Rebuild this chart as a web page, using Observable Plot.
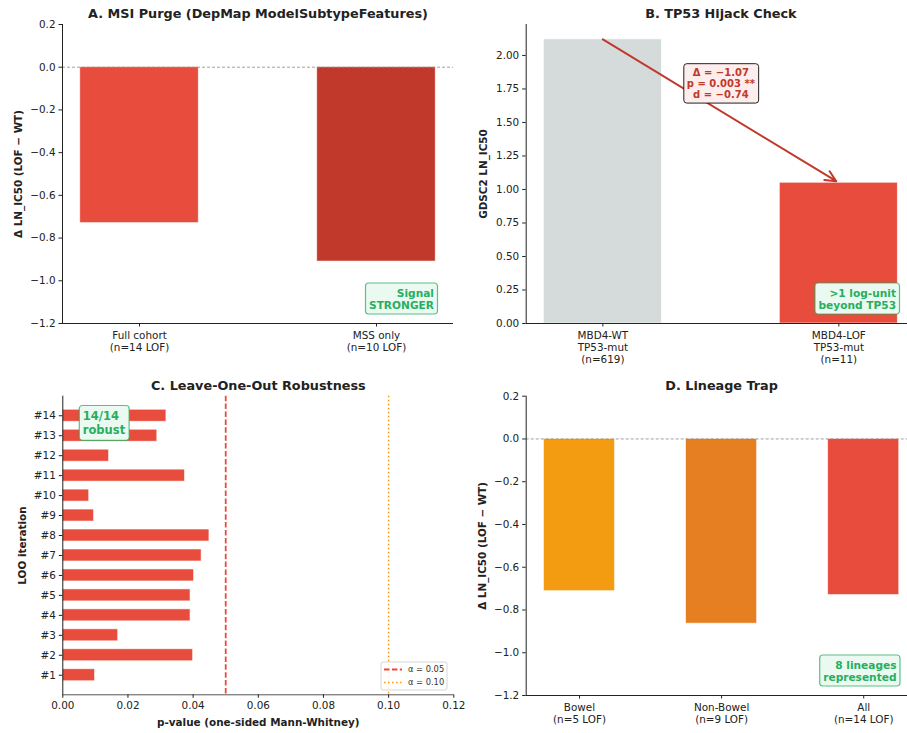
<!DOCTYPE html>
<html><head><meta charset="utf-8">
<script src="https://cdn.jsdelivr.net/npm/d3@7"></script>
<script src="https://cdn.jsdelivr.net/npm/@observablehq/plot@0.6"></script>
<style>
html,body{margin:0;padding:0;background:#fff;overflow:hidden;}
#fig{position:relative;width:907px;height:733px;overflow:hidden;background:#fff;}
.panel{position:absolute;}
.panel svg{max-width:none !important;display:block;}
</style></head><body><div id="fig"></div>
<script>
// ---------- data ----------
const msiCategories = ["Full cohort\n(n=14 LOF)", "MSS only\n(n=10 LOF)"];
const msiDelta = [-0.73, -0.91];

const tp53Categories = ["MBD4-WT\nTP53-mut\n(n=619)", "MBD4-LOF\nTP53-mut\n(n=11)"];
const tp53Ic50 = [2.12, 1.05];
const tp53Stats = ["Δ = −1.07", "p = 0.003 **", "d = −0.74"];

const looIterations = ["#1","#2","#3","#4","#5","#6","#7","#8","#9","#10","#11","#12","#13","#14"];
const looPValues = [0.0099, 0.0400, 0.0170, 0.0392, 0.0392, 0.0403, 0.0426, 0.0450, 0.0096, 0.0081, 0.0375, 0.0142, 0.0290, 0.0318];
const alphaLevels = [0.05, 0.10];
const alphaLabels = ["α = 0.05", "α = 0.10"];

const lineageCategories = ["Bowel\n(n=5 LOF)", "Non-Bowel\n(n=9 LOF)", "All\n(n=14 LOF)"];
const lineageDelta = [-0.712, -0.864, -0.73];

const deltaTicks = [-1.2, -1.0, -0.8, -0.6, -0.4, -0.2, 0.0, 0.2];
const ic50Ticks = [0, 0.25, 0.5, 0.75, 1.0, 1.25, 1.5, 1.75, 2.0];
const pTicks = [0, 0.02, 0.04, 0.06, 0.08, 0.10, 0.12];

// ---------- styles ----------
const FONT = "DejaVu Sans";
const msiColors = ["#e74c3c", "#c0392b"];
const tp53Colors = ["#d5dbdb", "#e74c3c"];
const lineageColors = ["#f39c12", "#e67e22", "#e74c3c"];
const GREEN = "#27ae60";
const INK = "#222";

const fig = document.getElementById("fig");
const fmt1 = d => d3.format(".1f")(d).replace("-", "\u2212");
const fmt2 = d => d3.format(".2f")(d).replace("-", "\u2212");

function baseStyle() {
  return {fontFamily: FONT, fontSize: "10.4px", background: "transparent", color: INK, overflow: "visible"};
}

function addBoxes(svg, cls, o) {
  svg.querySelectorAll(`g.${cls} text, g[aria-label="${cls}"] text`).forEach(t => {
    const b = t.getBBox();
    const pad = o.pad ?? 3;
    const r = document.createElementNS("http://www.w3.org/2000/svg", "rect");
    r.setAttribute("x", b.x - pad);
    r.setAttribute("y", b.y - pad);
    r.setAttribute("width", b.width + 2 * pad);
    r.setAttribute("height", b.height + 2 * pad);
    r.setAttribute("rx", o.r ?? 3);
    r.setAttribute("fill", o.fill);
    r.setAttribute("fill-opacity", o.fillOpacity ?? 1);
    r.setAttribute("stroke", o.stroke);
    r.setAttribute("stroke-opacity", o.strokeOpacity ?? 1);
    r.setAttribute("stroke-width", o.strokeWidth ?? 1);
    const tr = t.getAttribute("transform");
    if (tr) r.setAttribute("transform", tr);
    t.parentNode.insertBefore(r, t);
  });
}

function place(svg, left, top) {
  const d = document.createElement("div");
  d.className = "panel";
  d.style.left = left + "px";
  d.style.top = top + "px";
  d.appendChild(svg);
  fig.appendChild(d);
  return svg;
}

function titleMark(txt, dy) {
  return Plot.text([txt], {text: d => d, frameAnchor: "top", dy, textAnchor: "middle", lineAnchor: "middle",
    fontWeight: "bold", fontSize: 12.8, fill: INK});
}
function yLabelMark(txt, dx) {
  return Plot.text([txt], {text: d => d, frameAnchor: "left", dx, rotate: -90, textAnchor: "middle",
    lineAnchor: "middle", fontWeight: "bold", fontSize: 10.4, fill: INK});
}
function greenNote(txt, anchor, dx, dy, size, lh) {
  const left = anchor.endsWith("left");
  return Plot.text([txt], {text: d => d, frameAnchor: anchor, dx, dy,
    textAnchor: left ? "start" : "end", lineAnchor: anchor.startsWith("top") ? "top" : "bottom",
    fontWeight: "bold", fontSize: size, lineHeight: lh, fill: GREEN, className: "gbox", ariaLabel: "gbox"});
}
const boxGreen = {fill: "#eafaf1", stroke: GREEN, strokeOpacity: 0.75, strokeWidth: 1.2, pad: 3.5, r: 3};
const axisOpts = {tickSize: 3.5, label: null, fontSize: 10.4};

// ---------- Panel A ----------
{
  const data = msiDelta.map((v, i) => ({i, v, c: msiColors[i]}));
  const xd = [-0.325, 1.325], yd = [-1.2, 0.2];
  const svg = Plot.plot({
    width: 460, height: 370, marginLeft: 62, marginRight: 7, marginTop: 24, marginBottom: 47,
    style: baseStyle(),
    x: {type: "linear", domain: xd}, y: {domain: yd}, color: {type: "identity"},
    marks: [
      Plot.rect(data, {x1: d => d.i - 0.25, x2: d => d.i + 0.25, y1: 0, y2: "v", fill: "c", stroke: "white", strokeOpacity: 0.7, strokeWidth: 0.8}),
      Plot.ruleY([0], {stroke: "#888", strokeWidth: 0.8, strokeDasharray: "3,2"}),
      Plot.ruleX([xd[0]], {stroke: INK, strokeWidth: 1}),
      Plot.ruleY([yd[0]], {stroke: INK, strokeWidth: 1}),
      Plot.axisX({...axisOpts, ticks: [0, 1], tickFormat: i => msiCategories[i], tickPadding: 3, lineHeight: 1.18}),
      Plot.axisY({...axisOpts, ticks: deltaTicks, tickFormat: fmt1, tickPadding: 3.5}),
      titleMark("A. MSI Purge (DepMap ModelSubtypeFeatures)", -10.5),
      yLabelMark("Δ LN_IC50 (LOF − WT)", -44),
      greenNote("Signal\nSTRONGER", "bottom-right", -19.5, -15, 10.6, 1.13)
    ]
  });
  place(svg, 0, 0);
  addBoxes(svg, "gbox", boxGreen);
}

// ---------- Panel B ----------
{
  const data = tp53Ic50.map((v, i) => ({i, v, c: tp53Colors[i]}));
  const arrowData = [{x1: 0, y1: tp53Ic50[0], x2: 1, y2: tp53Ic50[1]}];
  const xd = [-0.325, 1.325], yd = [0, 2.231];
  const svg = Plot.plot({
    width: 475, height: 370, marginLeft: 75.7, marginRight: 10, marginTop: 24, marginBottom: 47,
    style: baseStyle(),
    x: {type: "linear", domain: xd}, y: {domain: yd}, color: {type: "identity"},
    marks: [
      Plot.rect(data, {x1: d => d.i - 0.25, x2: d => d.i + 0.25, y1: 0, y2: "v", fill: "c", stroke: "white", strokeOpacity: 0.7, strokeWidth: 0.8}),
      Plot.arrow(arrowData, {x1: "x1", y1: "y1", x2: "x2", y2: "y2", stroke: "#c0392b", strokeWidth: 2, headLength: 9, headAngle: 50, insetEnd: 3}),
      Plot.ruleX([xd[0]], {stroke: INK, strokeWidth: 1}),
      Plot.ruleY([yd[0]], {stroke: INK, strokeWidth: 1}),
      Plot.axisX({...axisOpts, ticks: [0, 1], tickFormat: i => tp53Categories[i], tickPadding: 3, lineHeight: 1.18}),
      Plot.axisY({...axisOpts, ticks: ic50Ticks, tickFormat: fmt2, tickPadding: 3.5}),
      titleMark("B. TP53 Hijack Check", -10.5),
      yLabelMark("GDSC2 LN_IC50", -42.7),
      Plot.text([tp53Stats.join("\n")], {text: d => d, frameAnchor: "top", dy: 58.8, textAnchor: "middle", lineAnchor: "middle",
        fontWeight: "bold", fontSize: 10, lineHeight: 1.12, fill: "#c0392b", className: "rbox", ariaLabel: "rbox"}),
      greenNote(">1 log-unit\nbeyond TP53", "bottom-right", -19.5, -15, 10.6, 1.13)
    ]
  });
  place(svg, 450, 0);
  addBoxes(svg, "gbox", boxGreen);
  addBoxes(svg, "rbox", {fill: "#fdedec", stroke: INK, strokeWidth: 1, pad: 3, r: 3});
}

// ---------- Panel C ----------
{
  const data = looPValues.map((p, i) => ({i, p}));
  const xd = [0, 0.12], yd = [-0.98, 13.98];
  const W = 475, H = 363, mL = 62.3, mR = 21.7, mT = 25.7, mB = 38.7;
  const svg = Plot.plot({
    width: W, height: H, marginLeft: mL, marginRight: mR, marginTop: mT, marginBottom: mB,
    style: baseStyle(),
    x: {domain: xd}, y: {domain: yd},
    marks: [
      Plot.rect(data, {x1: 0, x2: "p", y1: d => d.i - 0.3, y2: d => d.i + 0.3, fill: "#e74c3c", stroke: "white", strokeOpacity: 0.7, strokeWidth: 0.8}),
      Plot.ruleX([alphaLevels[0]], {stroke: "#e74c3c", strokeWidth: 1.8, strokeDasharray: "5.5,2.4"}),
      Plot.ruleX([alphaLevels[1]], {stroke: "#f39c12", strokeWidth: 1.5, strokeDasharray: "1.5,2.5"}),
      Plot.ruleX([xd[0]], {stroke: INK, strokeWidth: 1}),
      Plot.ruleY([yd[0]], {stroke: "#555", strokeWidth: 1}),
      Plot.axisX({...axisOpts, ticks: pTicks, tickFormat: fmt2, tickPadding: 3}),
      Plot.axisY({...axisOpts, ticks: d3.range(looIterations.length), tickFormat: i => looIterations[i], tickPadding: 3.5}),
      titleMark("C. Leave-One-Out Robustness", -10.7),
      yLabelMark("LOO iteration", -40.3),
      Plot.text(["p-value (one-sided Mann-Whitney)"], {text: d => d, frameAnchor: "bottom", dy: 27.7, textAnchor: "middle", lineAnchor: "middle",
        fontWeight: "bold", fontSize: 10.4, fill: INK}),
      greenNote("14/14\nrobust", "top-left", 20, 14, 11.5, 1.2)
    ]
  });
  place(svg, 0, 370);
  addBoxes(svg, "gbox", boxGreen);
  // legend
  const fr = W - mR, fb = H - mB;
  const g = d3.select(svg).append("g").attr("font-family", FONT).attr("font-size", 8.3).attr("text-anchor", "start");
  const bw = 66, bh = 28, bx = fr - 6.3 - bw, by = fb - 4.3 - bh;
  g.append("rect").attr("x", bx).attr("y", by).attr("width", bw).attr("height", bh).attr("rx", 2)
    .attr("fill", "white").attr("fill-opacity", 0.85).attr("stroke", "#ccc").attr("stroke-width", 0.8);
  const styles = [{stroke: "#e74c3c", w: 1.8, dash: "5.5,2.4"}, {stroke: "#f39c12", w: 1.5, dash: "1.5,2.5"}];
  alphaLabels.forEach((lab, k) => {
    const yy = by + 7.5 + k * 13;
    g.append("line").attr("x1", bx + 3).attr("x2", bx + 21).attr("y1", yy).attr("y2", yy)
      .attr("stroke", styles[k].stroke).attr("stroke-width", styles[k].w).attr("stroke-dasharray", styles[k].dash);
    g.append("text").attr("x", bx + 27).attr("y", yy).attr("dy", "0.35em").attr("fill", "#333").attr("text-anchor", "start").text(lab);
  });
}

// ---------- Panel D ----------
{
  const data = lineageDelta.map((v, i) => ({i, v, c: lineageColors[i]}));
  const xd = [-0.375, 2.375], yd = [-1.2, 0.2];
  const svg = Plot.plot({
    width: 475, height: 363, marginLeft: 75.7, marginRight: 8.5, marginTop: 25.7, marginBottom: 38,
    style: baseStyle(),
    x: {type: "linear", domain: xd}, y: {domain: yd}, color: {type: "identity"},
    marks: [
      Plot.rect(data, {x1: d => d.i - 0.25, x2: d => d.i + 0.25, y1: 0, y2: "v", fill: "c", stroke: "white", strokeOpacity: 0.7, strokeWidth: 0.8}),
      Plot.ruleY([0], {stroke: "#888", strokeWidth: 0.8, strokeDasharray: "3,2"}),
      Plot.ruleX([xd[0]], {stroke: INK, strokeWidth: 1}),
      Plot.ruleY([yd[0]], {stroke: INK, strokeWidth: 1}),
      Plot.axisX({...axisOpts, ticks: [0, 1, 2], tickFormat: i => lineageCategories[i], tickPadding: 3, lineHeight: 1.18}),
      Plot.axisY({...axisOpts, ticks: deltaTicks, tickFormat: fmt1, tickPadding: 3.5}),
      titleMark("D. Lineage Trap", -10.7),
      yLabelMark("Δ LN_IC50 (LOF − WT)", -44),
      greenNote("8 lineages\nrepresented", "bottom-right", -20.5, -15, 10.6, 1.13)
    ]
  });
  place(svg, 450, 370);
  addBoxes(svg, "gbox", boxGreen);
}
</script></body></html>
